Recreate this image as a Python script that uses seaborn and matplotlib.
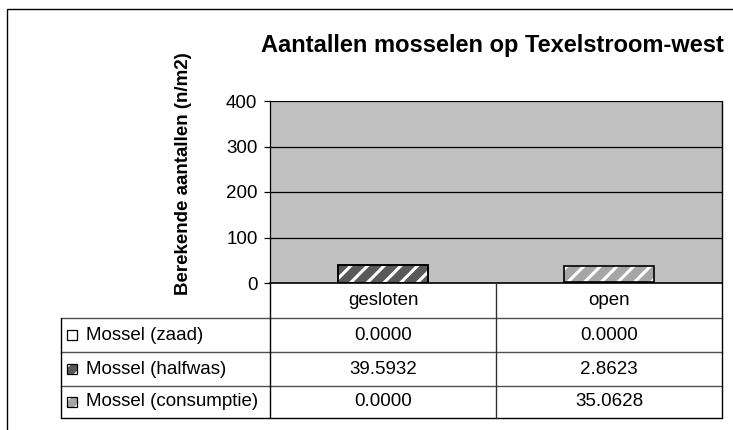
import numpy as np
import pandas as pd
import matplotlib
matplotlib.use('Agg')
import matplotlib.pyplot as plt
import seaborn as sns
from matplotlib.patches import Rectangle
from matplotlib.lines import Line2D

# data
categories = ['gesloten', 'open']
series_names = ['Mossel (zaad)', 'Mossel (halfwas)', 'Mossel (consumptie)']
zaad = [0.0, 0.0]
halfwas = [39.5932, 2.8623]
consumptie = [0.0, 35.0628]
yticks = [0, 100, 200, 300, 400]

title = 'Aantallen mosselen op Texelstroom-west'
ylabel = 'Berekende aantallen (n/m2)'

sns.set_style('white')
plt.rcParams['font.family'] = ['Liberation Sans', 'DejaVu Sans']
plt.rcParams['text.color'] = 'black'
plt.rcParams['ytick.color'] = 'black'
plt.rcParams['ytick.labelcolor'] = 'black'
plt.rcParams['hatch.linewidth'] = 2.2

W, H = 733, 430
fig = plt.figure(figsize=(W / 100, H / 100), dpi=100)

def fx(px):
    return px / W

def fy(py):
    return 1 - py / H

# plot area (pixel boxes)
left, right, top, bottom = 270, 722, 101, 283
ax = fig.add_axes([fx(left), fy(bottom), fx(right - left), (bottom - top) / H])
ax.set_facecolor('#c0c0c0')

df = pd.DataFrame({'cat': categories, 'zaad': zaad, 'halfwas': halfwas, 'consumptie': consumptie})
df['lvl2'] = df['zaad'] + df['halfwas']
df['lvl3'] = df['lvl2'] + df['consumptie']

# stacked bars drawn as cumulative layers, top layer first
layers = [('lvl3', '#a6a6a6'), ('lvl2', '#595959'), ('zaad', '#ffffff')]
for col, fc in layers:
    sns.barplot(data=df, x='cat', y=col, ax=ax, color=fc, saturation=1, width=0.4,
                hatch='//' if col != 'zaad' else None, edgecolor='white', linewidth=0, zorder=3)
    sns.barplot(data=df, x='cat', y=col, ax=ax, fill=False, width=0.4,
                edgecolor='black', linewidth=1.2, zorder=4)

ax.set_ylim(0, 400)
ax.set_xlim(-0.5, 1.5)
ax.set_yticks(yticks)
ax.set_yticklabels([str(t) for t in yticks], fontsize=13.5)
ax.set_xticks([])
ax.set_xlabel('')
ax.set_ylabel('')
for t in yticks[1:]:
    ax.axhline(t, color='black', lw=0.9, zorder=1)
ax.tick_params(axis='y', length=4, width=0.9, color='black', direction='out', pad=5, left=True)
for s in ['top', 'right']:
    ax.spines[s].set_visible(False)
ax.spines['left'].set_color('black')
ax.spines['bottom'].set_color('black')
ax.spines['left'].set_linewidth(0.9)
ax.spines['bottom'].set_linewidth(1.2)

fig.text(fx(492), fy(52), title, ha='center', va='baseline', fontsize=17, fontweight='bold')
fig.text(fx(183), fy(174), ylabel, ha='center', va='center', rotation=90, fontsize=13.5, fontweight='bold')

# outer chart border
fig.add_artist(Rectangle((fx(7), fy(440)), fx(740), (440 - 9) / H, transform=fig.transFigure,
                         fill=False, edgecolor='black', lw=1.0))

# data table
tab_left = 61
col_x = [270, 496, 722]
row_y = [283, 318, 352, 386, 418]

def hline(y, x0, x1, color='#303030', lw=1.0):
    fig.add_artist(Line2D([fx(x0), fx(x1)], [fy(y), fy(y)], transform=fig.transFigure, color=color, lw=lw))

def vline(x, y0, y1, color='#303030', lw=1.0):
    fig.add_artist(Line2D([fx(x), fx(x)], [fy(y0), fy(y1)], transform=fig.transFigure, color=color, lw=lw))

for y in row_y[1:4]:
    hline(y, tab_left, 722, color='#505050')
hline(418, tab_left, 722, color='black')
vline(tab_left, 318, 418, color='black')
vline(270, 283, 418, color='black')
vline(496, 283, 418, color='#303030')
vline(722, top, 418, color='black')

centers = [(col_x[0] + col_x[1]) / 2, (col_x[1] + col_x[2]) / 2]
row_c = [(row_y[i] + row_y[i + 1]) / 2 for i in range(4)]
for cx, cat in zip(centers, categories):
    fig.text(fx(cx), fy(row_c[0]), cat, ha='center', va='center', fontsize=13.5)

values = [zaad, halfwas, consumptie]
key_styles = [('#ffffff', None), ('#595959', '//'), ('#a6a6a6', '//')]
for i, (name, vals) in enumerate(zip(series_names, values)):
    yc = row_c[i + 1]
    fc, hatch = key_styles[i]
    fig.add_artist(Rectangle((fx(67), fy(yc + 5)), fx(10), 10 / H, transform=fig.transFigure,
                             facecolor=fc, hatch=hatch, edgecolor='white', lw=0))
    fig.add_artist(Rectangle((fx(67), fy(yc + 5)), fx(10), 10 / H, transform=fig.transFigure,
                             fill=False, edgecolor='black', lw=0.9))
    fig.text(fx(86), fy(yc), name, ha='left', va='center', fontsize=13.5)
    for cx, v in zip(centers, vals):
        fig.text(fx(cx), fy(yc), f'{v:.4f}', ha='center', va='center', fontsize=13.5)

fig.savefig('out.png', dpi=100)
